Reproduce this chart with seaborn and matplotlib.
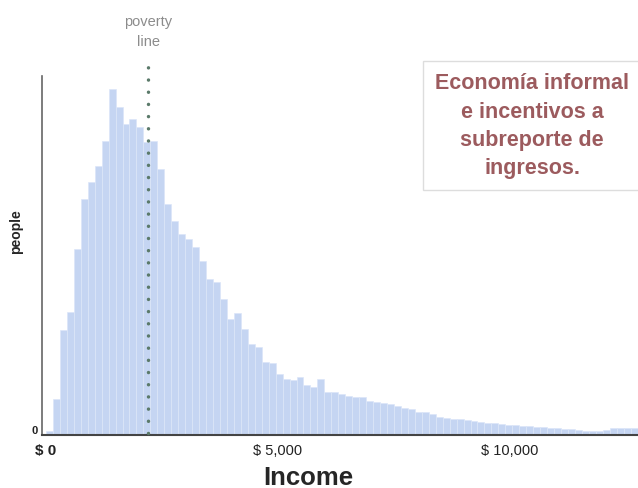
import numpy as np
import pandas as pd
import matplotlib
matplotlib.use('Agg')
import matplotlib.pyplot as plt
import seaborn as sns

# Income histogram, bins of $150 starting at $0 (heights, arbitrary units)
bin_width = 150
people = [4, 36, 105, 123, 186, 236, 253, 269, 294, 346,
          328, 311, 316, 308, 293, 294, 266, 231, 214, 201,
          196, 188, 174, 156, 153, 136, 116, 122, 106, 91,
          88, 73, 72, 61, 56, 55, 58, 50, 48, 56,
          43, 43, 41, 39, 38, 38, 34, 33, 32, 31,
          29, 27, 26, 23, 23, 21, 18, 17, 16, 16,
          15, 14, 13, 12, 12, 11, 10, 10, 9, 9,
          8, 8, 7, 7, 6, 6, 5, 4, 4, 4,
          5, 7, 7, 7, 7]
poverty_line = 2200
xtick_values = [0, 5000, 10000]
xtick_labels = ['$ 0', '$ 5,000', '$ 10,000']
note = 'Economía informal\ne incentivos a\nsubreporte de\ningresos.'

n_bins = len(people)
df = pd.DataFrame({'income': np.arange(n_bins) * bin_width + bin_width / 2,
                   'people': people})

sns.set_style('white')
plt.rcParams['font.family'] = ['Liberation Sans', 'DejaVu Sans']

fig = plt.figure(figsize=(6.38, 4.89), dpi=100)
ax = fig.add_axes([0.0658, 0.1084, 0.9342, 0.7341])

sns.histplot(data=df, x='income', weights='people', binwidth=bin_width,
             binrange=(0, n_bins * bin_width), ax=ax,
             color='#c5d5f2', alpha=1, edgecolor='#dce6f8', linewidth=0.5)

ax.set_xlim(-86, 12760)
ax.set_ylim(0, 359)

# dotted poverty line, running above the plot area
ax.plot([poverty_line, poverty_line], [2, 374], color='#5b7a6a',
        linestyle=(0, (0.01, 3.5)), linewidth=2.5, dash_capstyle='round',
        clip_on=False, zorder=5)
ax.text(poverty_line, 387, 'poverty\nline', ha='center', va='bottom',
        fontsize=10.5, color='#8c8c8c', linespacing=1.55, clip_on=False)

for side in ['top', 'right']:
    ax.spines[side].set_visible(False)
ax.spines['left'].set_color('#666666')
ax.spines['bottom'].set_color('#444444')
ax.spines['left'].set_linewidth(1.2)
ax.spines['bottom'].set_linewidth(1.5)

ax.set_yticks([0])
ax.set_yticklabels(['0'], fontsize=8, fontweight='bold')
for lab in ax.get_yticklabels():
    lab.set_va('bottom')
ax.set_xticks(xtick_values)
ax.set_xticklabels(xtick_labels, fontsize=10.5)
ax.get_xticklabels()[0].set_fontweight('bold')
ax.get_xticklabels()[0].set_fontsize(11)
ax.tick_params(axis='both', length=0, colors='#222222')
ax.tick_params(axis='x', pad=6)
ax.tick_params(axis='y', pad=3)

ax.set_xlabel('Income', fontsize=18.5, fontweight='bold', va='center')
ax.xaxis.set_label_coords(0.447, -0.117)
ax.set_ylabel('people', fontsize=10, fontweight='bold', va='center')
ax.yaxis.set_label_coords(-0.044, 0.568)

fig.text(0.834, 0.742, note, ha='center', va='center', fontsize=15.5,
         fontweight='bold', color='#9c5b5e', linespacing=1.45,
         bbox=dict(boxstyle='square,pad=0.55', facecolor='white',
                   edgecolor='#dddddd', linewidth=1))

fig.savefig('out.png', dpi=100)
